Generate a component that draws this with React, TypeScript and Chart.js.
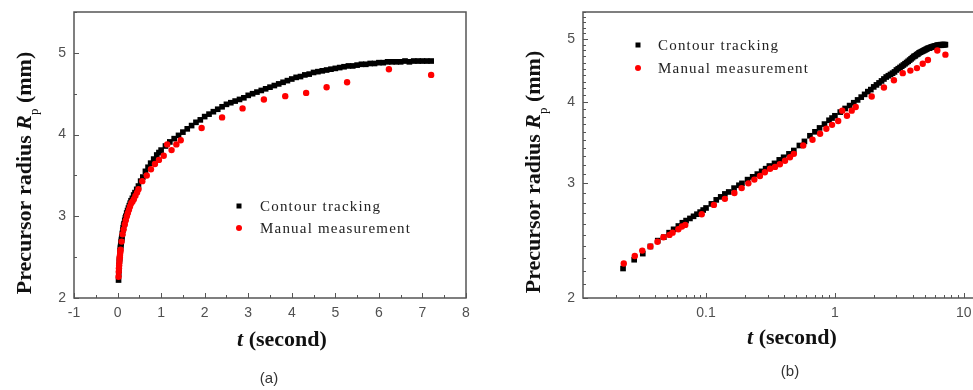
import React, { useEffect, useRef } from 'react';
import { Chart, registerables } from 'chart.js';

Chart.register(...registerables);

// ---- Data ----
const contourT = [
  0.0227, 0.0277, 0.0323, 0.037, 0.0422, 0.047, 0.0517, 0.056, 0.061, 0.0655,
  0.07, 0.075, 0.08, 0.085, 0.09, 0.095, 0.1, 0.11, 0.12, 0.13,
  0.14, 0.15, 0.165, 0.18, 0.19, 0.21, 0.23, 0.25, 0.27, 0.29,
  0.31, 0.34, 0.37, 0.4, 0.44, 0.48, 0.53, 0.58, 0.64, 0.7,
  0.76, 0.83, 0.9, 0.95, 1.0,
  1.1, 1.2, 1.3, 1.4, 1.5, 1.6, 1.7, 1.8, 1.9, 2.0,
  2.1, 2.2, 2.3, 2.4, 2.5, 2.6, 2.7, 2.8, 2.9, 3.0,
  3.1, 3.2, 3.3, 3.4, 3.5, 3.6, 3.7, 3.8, 3.9, 4.0,
  4.1, 4.2, 4.3, 4.4, 4.5, 4.6, 4.7, 4.8, 4.9, 5.0,
  5.1, 5.2, 5.3, 5.4, 5.5, 5.6, 5.7, 5.8, 5.9, 6.0,
  6.1, 6.2, 6.3, 6.4, 6.5, 6.6, 6.7, 6.8, 6.9, 7.0,
  7.1, 7.2,
];
const contourR = [
  2.22, 2.29, 2.34, 2.4, 2.45, 2.48, 2.52, 2.55, 2.58, 2.61,
  2.63, 2.65, 2.67, 2.69, 2.71, 2.73, 2.75, 2.79, 2.83, 2.86,
  2.89, 2.91, 2.95, 2.98, 3.0, 3.04, 3.07, 3.1, 3.13, 3.16,
  3.19, 3.22, 3.26, 3.29, 3.33, 3.37, 3.43, 3.48, 3.55, 3.6,
  3.65, 3.7, 3.75, 3.78, 3.81,
  3.86, 3.91, 3.95, 3.99, 4.03, 4.07, 4.11, 4.15, 4.18, 4.22,
  4.25, 4.28, 4.31, 4.34, 4.37, 4.39, 4.41, 4.43, 4.45, 4.48,
  4.5, 4.52, 4.54, 4.56, 4.58, 4.6, 4.62, 4.64, 4.66, 4.68,
  4.7, 4.71, 4.73, 4.74, 4.76, 4.77, 4.78, 4.79, 4.8, 4.81,
  4.82, 4.83, 4.84, 4.84, 4.85, 4.86, 4.86, 4.87, 4.87, 4.88,
  4.88, 4.89, 4.89, 4.89, 4.89, 4.9, 4.89, 4.9, 4.9, 4.9,
  4.9, 4.9,
];
const manualT = [
  0.023, 0.028, 0.032, 0.037, 0.042, 0.0467, 0.052, 0.055, 0.061, 0.065,
  0.069, 0.0926, 0.115, 0.14, 0.166, 0.189, 0.213, 0.237, 0.262, 0.286,
  0.314, 0.343, 0.374, 0.41, 0.448, 0.48, 0.568, 0.67, 0.767, 0.858,
  0.95, 1.06, 1.14, 1.24, 1.35, 1.45, 1.93, 2.4, 2.87, 3.36,
  3.85, 4.33, 4.8, 5.27, 6.23, 7.2,
];
const manualR = [
  2.26, 2.32, 2.365, 2.4, 2.44, 2.48, 2.5, 2.52, 2.55, 2.575,
  2.59, 2.69, 2.78, 2.84, 2.9, 2.95, 3.0, 3.04, 3.08, 3.12,
  3.16, 3.18, 3.21, 3.25, 3.29, 3.33, 3.43, 3.5, 3.575, 3.64,
  3.69, 3.74, 3.88, 3.81, 3.88, 3.93, 4.08, 4.21, 4.32, 4.43,
  4.47, 4.51, 4.58, 4.64, 4.8, 4.73,
];

const seriesLabels = ['Contour tracking', 'Manual measurement'];

const linXTicks = [-1, 0, 1, 2, 3, 4, 5, 6, 7, 8];
const linYTicks = [2, 3, 4, 5];
const logXTicks = [0.1, 1, 10];
const logYTicks = [2, 3, 4, 5];

const captionA = '(a)';
const captionB = '(b)';

// ---- minor tick helpers ----
const linXMinor = linXTicks.slice(0, -1).map((v) => v + 0.5);
const linYMinor = linYTicks.map((v) => v + 0.5);
const logXMinor: number[] = [];
[0.01, 0.1, 1].forEach((d) => {
  for (let k = 2; k <= 9; k++) logXMinor.push(+(k * d).toFixed(4));
});
const logYMinor: number[] = [];
for (let k = 21; k <= 55; k++) if (k % 10 !== 0) logYMinor.push(k / 10);

const SERIF = '"Liberation Serif", "Times New Roman", serif';
const SANS = '"Liberation Sans", Arial, sans-serif';
const AXIS_COLOR = '#555';
const TICK_FONT = { family: SANS, size: 14 };
const TICK_COLOR = '#505050';

type Part = { text: string; font: string; dy?: number };

function drawRich(ctx: CanvasRenderingContext2D, parts: Part[], cx: number, by: number, rotate: boolean) {
  ctx.save();
  ctx.translate(cx, by);
  if (rotate) ctx.rotate(-Math.PI / 2);
  ctx.textBaseline = 'alphabetic';
  ctx.textAlign = 'left';
  ctx.fillStyle = '#111';
  let total = 0;
  parts.forEach((p) => {
    ctx.font = p.font;
    total += ctx.measureText(p.text).width;
  });
  let x = -total / 2;
  parts.forEach((p) => {
    ctx.font = p.font;
    ctx.fillText(p.text, x, p.dy || 0);
    x += ctx.measureText(p.text).width;
  });
  ctx.restore();
}

type Panel = {
  kind: 'linear' | 'log';
  yAxisWidth: number;
  padRight: number;
  xMin: number;
  xMax: number;
  yMin: number;
  yMax: number;
  xTicks: number[];
  yTicks: number[];
  xMinor: number[];
  yMinor: number[];
  xTitle: { cx: number; by: number };
  yTitle: { bx: number; cy: number };
  legend: { x: number; y1: number; y2: number; tx: number };
  caption: { text: string; cx: number; cy: number };
};

function decorPlugin(p: Panel) {
  return {
    id: 'decor',
    afterDraw(chart: any) {
      const ctx: CanvasRenderingContext2D = chart.ctx;
      const a = chart.chartArea;
      const xs = chart.scales.x;
      const ys = chart.scales.y;
      ctx.save();
      // frame
      ctx.strokeStyle = AXIS_COLOR;
      ctx.lineWidth = 1.5;
      ctx.strokeRect(a.left, a.top, a.right - a.left, a.bottom - a.top);
      // inward ticks
      ctx.lineWidth = 1;
      ctx.beginPath();
      const xt = (vals: number[], len: number) =>
        vals.forEach((v) => {
          const px = Math.round(xs.getPixelForValue(v)) + 0.5;
          if (px < a.left - 1 || px > a.right + 1) return;
          ctx.moveTo(px, a.bottom);
          ctx.lineTo(px, a.bottom - len);
        });
      const yt = (vals: number[], len: number) =>
        vals.forEach((v) => {
          const py = Math.round(ys.getPixelForValue(v)) + 0.5;
          if (py < a.top - 1 || py > a.bottom + 1) return;
          ctx.moveTo(a.left, py);
          ctx.lineTo(a.left + len, py);
        });
      xt(p.xTicks, 5);
      xt(p.xMinor, 3);
      yt(p.yTicks, 5);
      yt(p.yMinor, 3);
      ctx.stroke();

      // axis titles
      drawRich(
        ctx,
        [
          { text: 't', font: `italic bold 22px ${SERIF}` },
          { text: ' (second)', font: `bold 22px ${SERIF}` },
        ],
        p.xTitle.cx,
        p.xTitle.by,
        false
      );
      drawRich(
        ctx,
        [
          { text: 'Precursor radius ', font: `bold 22px ${SERIF}` },
          { text: 'R', font: `italic bold 22px ${SERIF}` },
          { text: 'p', font: `13px ${SERIF}`, dy: 7 },
          { text: ' (mm)', font: `bold 22px ${SERIF}` },
        ],
        p.yTitle.bx,
        p.yTitle.cy,
        true
      );

      // legend
      const ds = chart.data.datasets;
      ctx.fillStyle = ds[0].backgroundColor;
      ctx.fillRect(p.legend.x - 2.5, p.legend.y1 - 2.5, 5, 5);
      ctx.fillStyle = ds[1].backgroundColor;
      ctx.beginPath();
      ctx.arc(p.legend.x, p.legend.y2, 3, 0, Math.PI * 2);
      ctx.fill();
      ctx.font = `15px ${SERIF}`;
      (ctx as any).letterSpacing = '1.2px';
      ctx.fillStyle = '#222';
      ctx.textBaseline = 'middle';
      ctx.textAlign = 'left';
      ctx.fillText(ds[0].label, p.legend.tx, p.legend.y1 + 1);
      ctx.fillText(ds[1].label, p.legend.tx, p.legend.y2 + 1);
      (ctx as any).letterSpacing = '0px';

      // caption
      ctx.font = `15px ${SANS}`;
      ctx.fillStyle = '#333';
      ctx.textAlign = 'center';
      ctx.fillText(p.caption.text, p.caption.cx, p.caption.cy);
      ctx.restore();
    },
  };
}

function buildConfig(p: Panel): any {
  const xType = p.kind === 'log' ? 'logarithmic' : 'linear';
  return {
    type: 'scatter',
    data: {
      datasets: [
        {
          label: seriesLabels[0],
          data: contourT.map((t, i) => ({ x: t, y: contourR[i] })),
          pointStyle: 'rect',
          pointRadius: 4,
          backgroundColor: '#000000',
          borderColor: '#000000',
          borderWidth: 0,
          order: 2,
        },
        {
          label: seriesLabels[1],
          data: manualT.map((t, i) => ({ x: t, y: manualR[i] })),
          pointStyle: 'circle',
          pointRadius: 3.2,
          backgroundColor: '#ff0000',
          borderColor: '#ff0000',
          borderWidth: 0,
          order: 1,
        },
      ],
    },
    options: {
      responsive: false,
      animation: false,
      devicePixelRatio: 1,
      layout: { padding: { left: 0, top: 12, right: p.padRight, bottom: 0 } },
      plugins: { legend: { display: false }, tooltip: { enabled: false } },
      scales: {
        x: {
          type: xType,
          min: p.xMin,
          max: p.xMax,
          grid: { display: false, drawTicks: false },
          border: { display: false },
          ticks: {
            font: TICK_FONT,
            color: TICK_COLOR,
            padding: 7,
            autoSkip: false,
            maxRotation: 0,
            callback: (v: number) => String(v),
          },
          afterBuildTicks: (s: any) => {
            s.ticks = p.xTicks.map((v) => ({ value: v }));
          },
          afterFit: (s: any) => {
            s.height = 92;
            s.paddingLeft = 0;
            s.paddingRight = 0;
          },
        },
        y: {
          type: xType,
          min: p.yMin,
          max: p.yMax,
          grid: { display: false, drawTicks: false },
          border: { display: false },
          ticks: {
            font: TICK_FONT,
            color: TICK_COLOR,
            padding: 8,
            autoSkip: false,
            callback: (v: number) => String(v),
          },
          afterBuildTicks: (s: any) => {
            s.ticks = p.yTicks.map((v) => ({ value: v }));
          },
          afterFit: (s: any) => {
            s.width = p.yAxisWidth;
            s.paddingTop = 0;
            s.paddingBottom = 0;
          },
        },
      },
    },
    plugins: [decorPlugin(p)],
  };
}

const leftPanel: Panel = {
  kind: 'linear',
  yAxisWidth: 74,
  padRight: 14,
  xMin: -1,
  xMax: 8,
  yMin: 2,
  yMax: 5.5,
  xTicks: linXTicks,
  yTicks: linYTicks,
  xMinor: linXMinor,
  yMinor: linYMinor,
  xTitle: { cx: 282, by: 346 },
  yTitle: { bx: 31, cy: 173 },
  legend: { x: 239, y1: 206, y2: 228, tx: 260 },
  caption: { text: captionA, cx: 269, cy: 379 },
};

const rightPanel: Panel = {
  kind: 'log',
  yAxisWidth: 93,
  padRight: 16,
  xMin: 0.0111,
  xMax: 12,
  yMin: 2,
  yMax: 5.5,
  xTicks: logXTicks,
  yTicks: logYTicks,
  xMinor: logXMinor,
  yMinor: logYMinor,
  xTitle: { cx: 302, by: 344 },
  yTitle: { bx: 50, cy: 172 },
  legend: { x: 148, y1: 45, y2: 68, tx: 168 },
  caption: { text: captionB, cx: 300, cy: 372 },
};

export default function App() {
  const leftRef = useRef<HTMLCanvasElement>(null);
  const rightRef = useRef<HTMLCanvasElement>(null);

  useEffect(() => {
    const c1 = new Chart(leftRef.current as HTMLCanvasElement, buildConfig(leftPanel));
    const c2 = new Chart(rightRef.current as HTMLCanvasElement, buildConfig(rightPanel));
    return () => {
      c1.destroy();
      c2.destroy();
    };
  }, []);

  return (
    <div
      style={{
        position: 'fixed',
        left: 0,
        top: 0,
        width: 973,
        height: 390,
        overflow: 'hidden',
        background: '#fff',
      }}
    >
      <canvas
        ref={leftRef}
        width={480}
        height={390}
        style={{ position: 'absolute', left: 0, top: 0, width: 480, height: 390 }}
      />
      <canvas
        ref={rightRef}
        width={500}
        height={390}
        style={{ position: 'absolute', left: 490, top: 0, width: 500, height: 390 }}
      />
    </div>
  );
}
